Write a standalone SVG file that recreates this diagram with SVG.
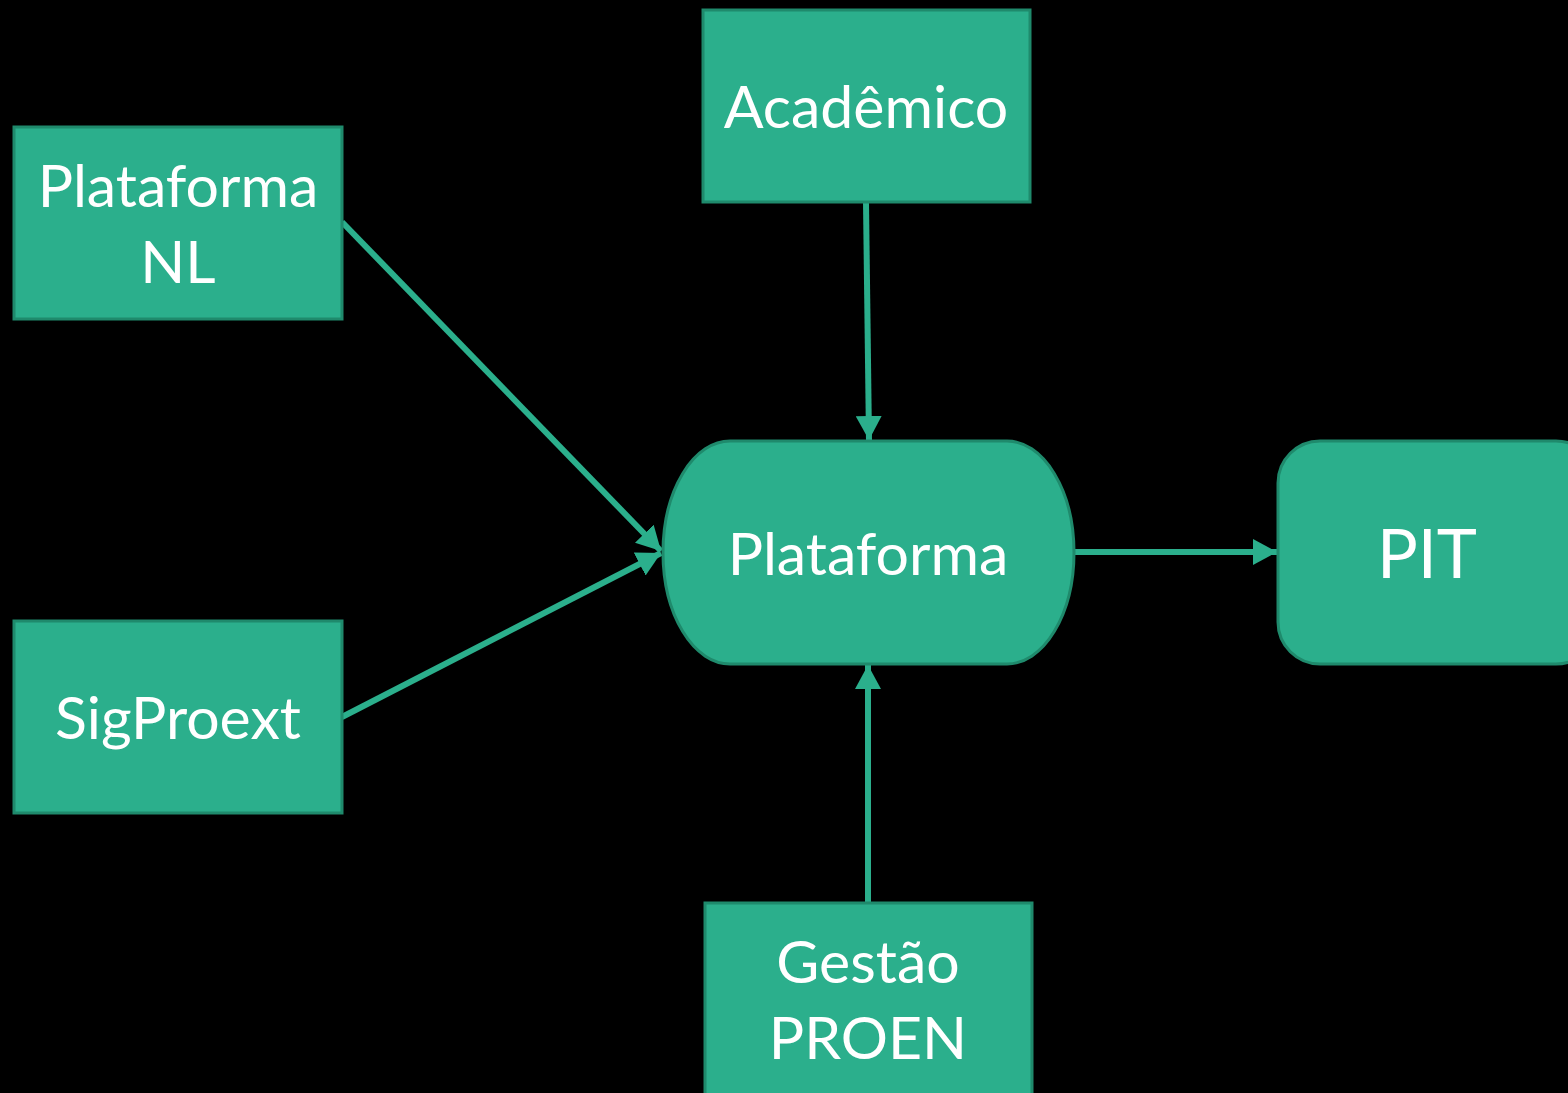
<svg xmlns="http://www.w3.org/2000/svg" width="1568" height="1093" viewBox="0 0 1568 1093">
<style>
.box{fill:#2BAF8C;stroke:#1F8A6C;stroke-width:3}
.t{font-family:Lato,"Open Sans","Liberation Sans",sans-serif;font-size:59px;fill:#FFFFFF;text-anchor:middle}
.c{stroke:#2BAF8C;stroke-width:6;fill:none}
</style>
<defs>
<marker id="ah" markerUnits="userSpaceOnUse" markerWidth="26" markerHeight="26" refX="24" refY="13" orient="auto">
<path d="M0,0 L24,13 L0,26 Z" fill="#2BAF8C"/>
</marker>
</defs>
<rect width="1568" height="1093" fill="#000000"/>
<g id="connectors">
<line class="c" x1="342" y1="222" x2="661" y2="551" marker-end="url(#ah)"/>
<line class="c" x1="342" y1="717" x2="661" y2="553" marker-end="url(#ah)"/>
<line class="c" x1="866" y1="202" x2="869" y2="440" marker-end="url(#ah)"/>
<line class="c" x1="868" y1="903" x2="868" y2="665" marker-end="url(#ah)"/>
<line class="c" x1="1074" y1="552" x2="1277" y2="552" marker-end="url(#ah)"/>
</g>
<g id="plataforma-nl">
<rect class="box" x="14" y="127" width="328" height="192"/>
<text class="t" x="178" y="207">Plataforma</text>
<text class="t" x="178" y="283">NL</text>
</g>
<g id="sigproext">
<rect class="box" x="14" y="621" width="328" height="192"/>
<text class="t" x="178" y="739">SigProext</text>
</g>
<g id="academico">
<rect class="box" x="703" y="10" width="327" height="192"/>
<text class="t" x="866" y="128">Acadêmico</text>
</g>
<g id="gestao-proen">
<rect class="box" x="705" y="903" width="327" height="200"/>
<text class="t" x="868" y="983">Gestão</text>
<text class="t" x="868" y="1059">PROEN</text>
</g>
<g id="plataforma">
<path class="box" d="M730,441 H1007 A67,111.5 0 0 1 1007,664 H730 A67,111.5 0 0 1 730,441 Z"/>
<text class="t" x="868" y="575">Plataforma</text>
</g>
<g id="pit">
<rect class="box" x="1278" y="441" width="320" height="223" rx="42" ry="42"/>
<text class="t" x="1427" y="578" style="font-size:68px">PIT</text>
</g>
</svg>
